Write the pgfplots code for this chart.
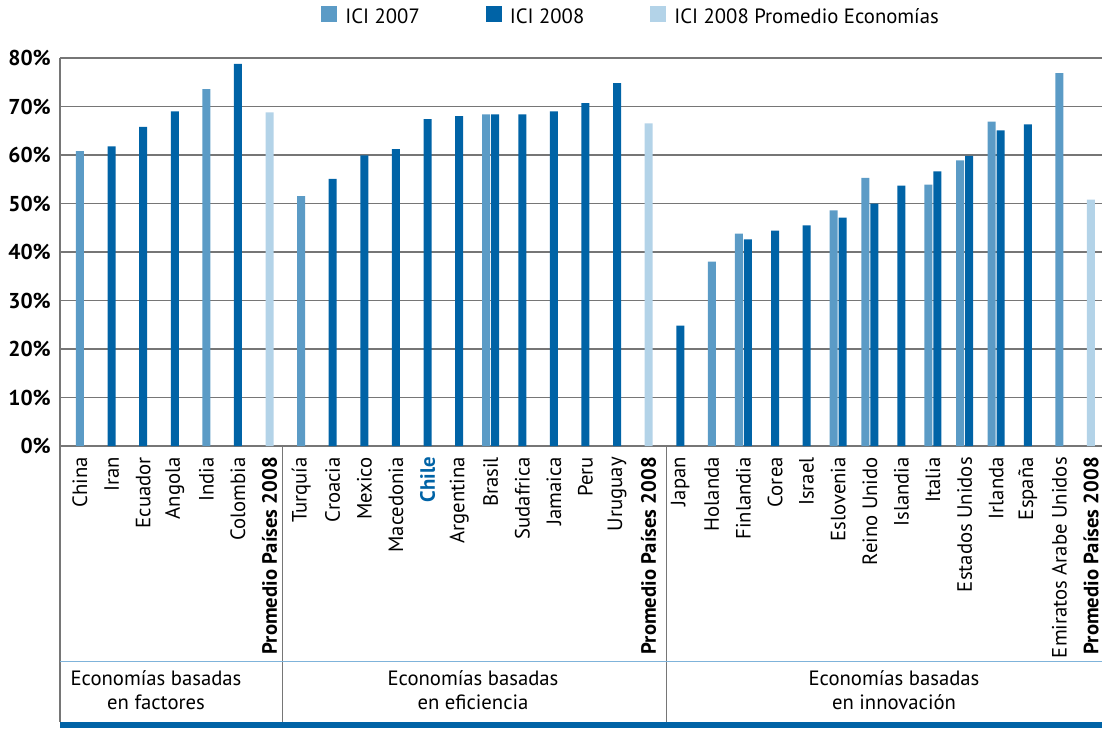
\documentclass[border=0pt]{standalone}
\usepackage{pgfplots}
\pgfplotsset{compat=1.18}
\usepackage{fontspec}
\setmainfont{PT Sans}
\definecolor{cA}{HTML}{5B9BC6}
\definecolor{cB}{HTML}{0063A6}
\definecolor{cP}{HTML}{B3D3E8}
\definecolor{gridc}{HTML}{767676}
\definecolor{sepblue}{HTML}{7FB3DA}
\newcommand{\fs}{\fontsize{20.7}{23.5}\selectfont}
\begin{document}
\begin{tikzpicture}[x=1pt,y=1pt]
\begin{axis}[
  width=1042pt, height=388pt, scale only axis,
  xmin=-0.633, xmax=32.35, ymin=0, ymax=80,
  ybar, bar width=8pt,
  axis lines=left,
  axis line style={-, draw=gridc, line width=1.3pt},
  ymajorgrids, grid style={draw=gridc, line width=1.5pt},
  major tick length=0pt,
  ytick={0,10,...,80},
  yticklabels={0\%,10\%,20\%,30\%,40\%,50\%,60\%,70\%,80\%},
  yticklabel style={font=\fontsize{21.5}{24}\selectfont\bfseries, inner sep=0pt},
  yticklabel shift=9pt,
  xtick={0,...,32},
  xticklabels={China,Iran,Ecuador,Angola,India,Colombia,\textbf{Promedio Países 2008},
    Turquía,Croacia,Mexico,Macedonia,\textcolor{cB}{\textbf{Chile}},Argentina,Brasil,Sudafrica,Jamaica,Peru,Uruguay,\textbf{Promedio Países 2008},
    Japan,Holanda,Finlandia,Corea,Israel,Eslovenia,Reino Unido,Islandia,Italia,Estados Unidos,Irlanda,España,Emiratos Arabe Unidos,\textbf{Promedio Países 2008}},
  xticklabel style={rotate=90, anchor=east, font=\fs, inner sep=0pt, xshift=-2pt},
  xticklabel shift=9pt,
  legend style={at={(0.548,1.108)}, anchor=center, draw=none, fill=none,
    legend columns=3, font=\fs,
    /tikz/every odd column/.append style={column sep=6pt},
    /tikz/every even column/.append style={column sep=64pt}},
  clip=false,
]
\addplot[fill=cA, draw=none, bar shift=0pt,
  legend image code/.code={\fill[cA] (0pt,-5pt) rectangle (16pt,11pt);}]
  coordinates {(0,60.8) (4,73.6) (7,51.5) (20,38.0) (31,76.9)};
\addlegendentry{ICI 2007}
\addplot[fill=cB, draw=none, bar shift=0pt,
  legend image code/.code={\fill[cB] (0pt,-5pt) rectangle (16pt,11pt);}]
  coordinates {(1,61.8) (2,65.8) (3,69.0) (5,78.8) (8,55.1) (9,59.9) (10,61.2)
    (11,67.4) (12,68.0) (14,68.4) (15,69.0) (16,70.7) (17,74.8) (19,24.8)
    (22,44.4) (23,45.5) (26,53.7) (30,66.3)};
\addlegendentry{ICI 2008}
\addplot[fill=cP, draw=none, bar shift=0pt,
  legend image code/.code={\fill[cP] (0pt,-5pt) rectangle (16pt,11pt);}]
  coordinates {(6,68.8) (18,66.5) (32,50.8)};
\addlegendentry{ICI 2008 Promedio Economías}
\addplot[fill=cA, draw=none, bar shift=-4.5pt, forget plot]
  coordinates {(13,68.4) (21,43.8) (24,48.6) (25,55.3) (27,53.9) (28,58.9) (29,66.9)};
\addplot[fill=cB, draw=none, bar shift=4.5pt, forget plot]
  coordinates {(13,68.4) (21,42.6) (24,47.1) (25,50.0) (27,56.6) (28,59.8) (29,65.1)};
\coordinate (O) at (rel axis cs:0,0);
\end{axis}
\begin{scope}[shift={(O)}]
\draw[gridc, line width=1.3pt] (0,0) -- (0,-276);
\draw[gridc, line width=0.9pt] (222,0) -- (222,-276);
\draw[gridc, line width=0.9pt] (606,0) -- (606,-276);
\draw[sepblue, line width=1.5pt] (0,-215.7) -- (1042,-215.7);
\fill[cB] (0,-282) rectangle (1042,-275.7);
\node[align=center, font=\fs, inner sep=0pt] at (96,-244) {Economías basadas\\en factores};
\node[align=center, font=\fs, inner sep=0pt] at (413,-244) {Economías basadas\\en eficiencia};
\node[align=center, font=\fs, inner sep=0pt] at (834,-244) {Economías basadas\\en innovación};
\pgfresetboundingbox
\path[use as bounding box] (-60,-282) rectangle (1042,446);
\end{scope}
\end{tikzpicture}
\end{document}
